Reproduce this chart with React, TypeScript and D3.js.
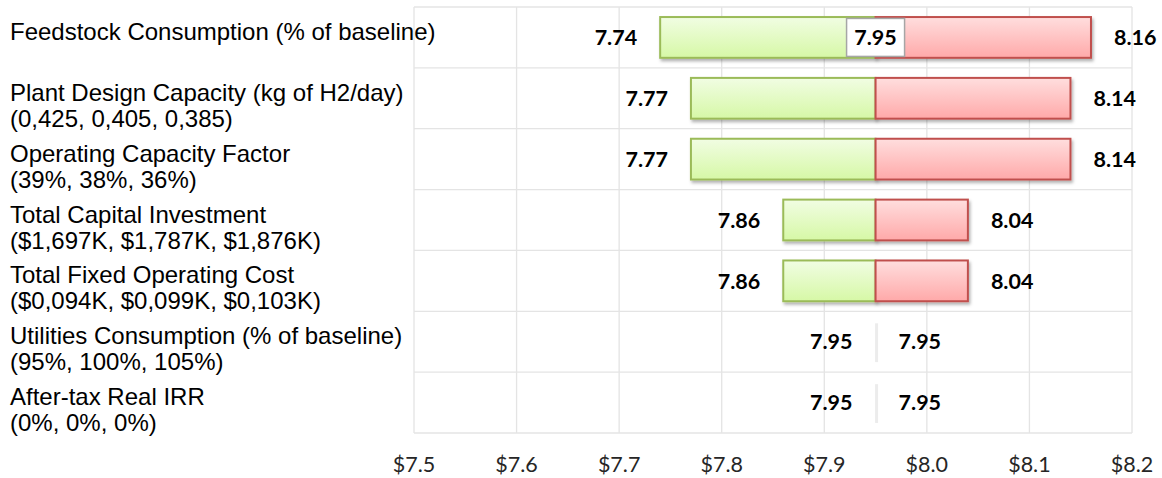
import React from "react";
import * as d3 from "d3";

// Tornado chart: levelized cost sensitivity around the base case
const driverNames = [
  "Feedstock Consumption (% of baseline)",
  "Plant Design Capacity (kg of H2/day)",
  "Operating Capacity Factor",
  "Total Capital Investment",
  "Total Fixed Operating Cost",
  "Utilities Consumption (% of baseline)",
  "After-tax Real IRR",
];
const driverRanges = [
  "",
  "(0,425, 0,405, 0,385)",
  "(39%, 38%, 36%)",
  "($1,697K, $1,787K, $1,876K)",
  "($0,094K, $0,099K, $0,103K)",
  "(95%, 100%, 105%)",
  "(0%, 0%, 0%)",
];
const lowValues = [7.74, 7.77, 7.77, 7.86, 7.86, 7.95, 7.95];
const highValues = [8.16, 8.14, 8.14, 8.04, 8.04, 7.95, 7.95];
const baseValue = 7.95;
const xTicks = [7.5, 7.6, 7.7, 7.8, 7.9, 8.0, 8.1, 8.2];

const W = 1162;
const H = 478;
const plot = { left: 414, right: 1132, top: 7, bottom: 433 };
const gridColor = "#e4e4e4";
const numFont = "Lato, 'Open Sans', sans-serif";
const labelFont = "'Liberation Sans', Arial, sans-serif";

export default function App() {
  const idx = d3.range(driverNames.length);
  const x = d3
    .scaleLinear()
    .domain([xTicks[0], xTicks[xTicks.length - 1]])
    .range([plot.left, plot.right]);
  const y = d3
    .scaleBand<number>()
    .domain(idx)
    .range([plot.top, plot.bottom])
    .paddingInner(0.33)
    .paddingOuter(0.165);
  const step = y.step();
  const bh = y.bandwidth();
  const cy = (i: number) => (y(i) as number) + bh / 2;
  const fmtTick = (v: number) => "$" + d3.format(".1f")(v);
  const fmtVal = d3.format(".2f");
  const gap = 23;
  const numSize = 21.5;
  const xb = x(baseValue);

  return (
    <svg
      width={W}
      height={H}
      style={{ position: "absolute", left: 0, top: 0, display: "block", background: "#fff" }}
    >
      <defs>
        <linearGradient id="lowFill" x1="0" y1="0" x2="0" y2="1">
          <stop offset="0" stopColor="#f1fde3" />
          <stop offset="1" stopColor="#d6f8a6" />
        </linearGradient>
        <linearGradient id="highFill" x1="0" y1="0" x2="0" y2="1">
          <stop offset="0" stopColor="#ffdede" />
          <stop offset="1" stopColor="#ffa9a9" />
        </linearGradient>
        <filter id="barShadow" x="-10%" y="-20%" width="130%" height="160%">
          <feDropShadow dx="1.5" dy="2.5" stdDeviation="1.6" floodColor="#000" floodOpacity="0.3" />
        </filter>
      </defs>

      {/* grid */}
      <g stroke={gridColor} strokeWidth={1.3} fill="none">
        {xTicks.map((t) => (
          <line key={"v" + t} x1={x(t)} x2={x(t)} y1={plot.top} y2={plot.bottom} />
        ))}
        {d3.range(driverNames.length + 1).map((i) => (
          <line
            key={"h" + i}
            x1={plot.left}
            x2={plot.right}
            y1={plot.top + i * step}
            y2={plot.top + i * step}
          />
        ))}
      </g>

      {/* bars */}
      {idx.map((i) => {
        const lo = lowValues[i];
        const hi = highValues[i];
        const top = y(i) as number;
        const loW = xb - x(lo);
        const hiW = x(hi) - xb;
        return (
          <g key={"bar" + i}>
            {loW > 0 ? (
              <rect
                x={x(lo)}
                y={top}
                width={loW}
                height={bh}
                fill="url(#lowFill)"
                stroke="#9bbb59"
                strokeWidth={2}
                filter="url(#barShadow)"
              />
            ) : null}
            {hiW > 0 ? (
              <rect
                x={xb}
                y={top}
                width={hiW}
                height={bh}
                fill="url(#highFill)"
                stroke="#c0504d"
                strokeWidth={2}
                filter="url(#barShadow)"
              />
            ) : null}
            {loW <= 0 && hiW <= 0 ? (
              <line
                x1={xb + 1}
                x2={xb + 1}
                y1={top + 2}
                y2={top + bh}
                stroke="#ececec"
                strokeWidth={3}
              />
            ) : null}
          </g>
        );
      })}

      {/* base case marker */}
      <g>
        <rect
          x={xb - 29}
          y={cy(0) - 19}
          width={58}
          height={38}
          fill="#fff"
          stroke="#a6a6a6"
          strokeWidth={1.5}
        />
        <text
          x={xb}
          y={cy(0) + 7.7}
          textAnchor="middle"
          fontFamily={numFont}
          fontWeight={700}
          fontSize={numSize}
          fill="#000"
        >
          {fmtVal(baseValue)}
        </text>
      </g>

      {/* value labels */}
      <g fontFamily={numFont} fontWeight={700} fontSize={numSize} fill="#000">
        {idx.map((i) => (
          <g key={"val" + i}>
            <text x={x(lowValues[i]) - gap} y={cy(i) + 7.7} textAnchor="end">
              {fmtVal(lowValues[i])}
            </text>
            <text x={x(highValues[i]) + gap} y={cy(i) + 7.7} textAnchor="start">
              {fmtVal(highValues[i])}
            </text>
          </g>
        ))}
      </g>

      {/* category labels */}
      <g fontFamily={labelFont} fontSize={24} fill="#000">
        {idx.map((i) => (
          <text key={"cat" + i} x={10} y={cy(i) + 2.5}>
            <tspan x={10}>{driverNames[i]}</tspan>
            {driverRanges[i] ? (
              <tspan x={10} dy={26}>
                {driverRanges[i]}
              </tspan>
            ) : null}
          </text>
        ))}
      </g>

      {/* x axis labels */}
      <g fontFamily={numFont} fontSize={numSize} fill="#262626" textAnchor="middle">
        {xTicks.map((t) => (
          <text key={"t" + t} x={x(t)} y={472}>
            {fmtTick(t)}
          </text>
        ))}
      </g>
    </svg>
  );
}
